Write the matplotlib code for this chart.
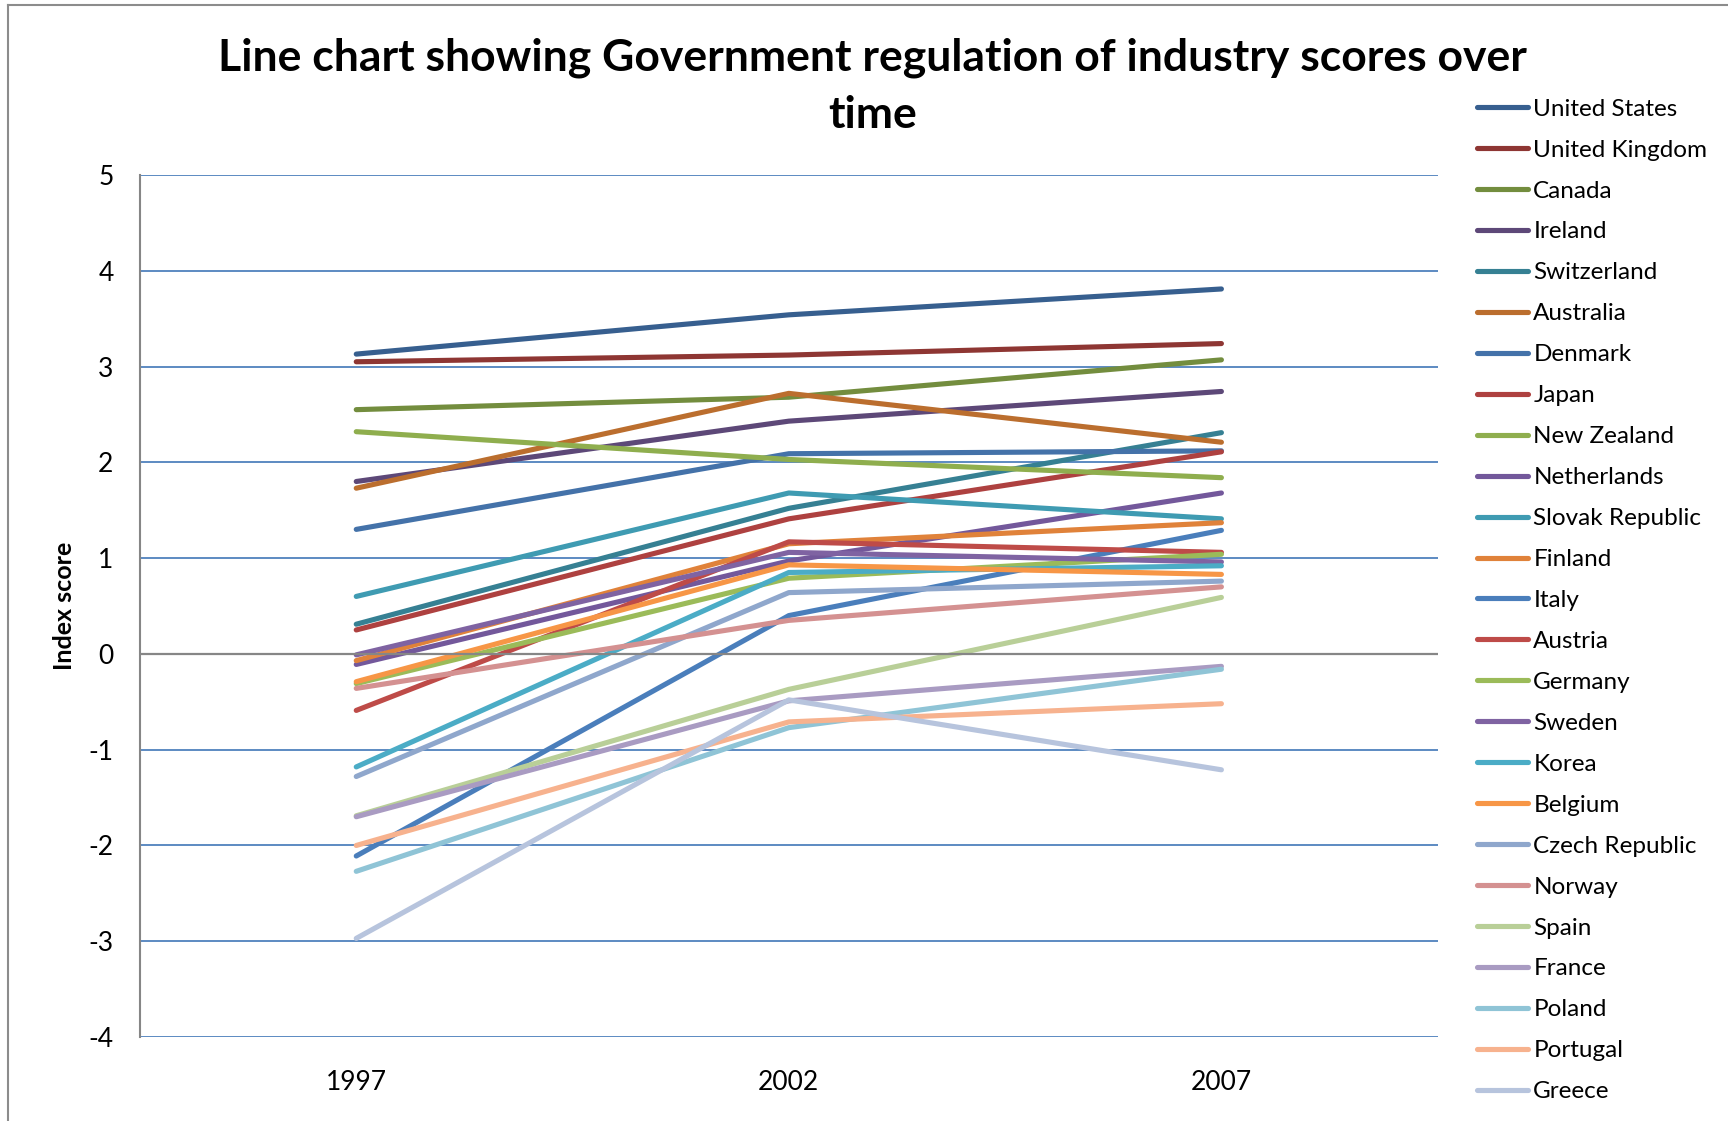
import matplotlib
matplotlib.use("Agg")
import matplotlib.pyplot as plt
from matplotlib.lines import Line2D

plt.rcParams['font.family'] = ['Lato', 'DejaVu Sans']
plt.rcParams['axes.unicode_minus'] = False

years = ['1997', '2002', '2007']
countries = ['United States', 'United Kingdom', 'Canada', 'Ireland', 'Switzerland',
             'Australia', 'Denmark', 'Japan', 'New Zealand', 'Netherlands',
             'Slovak Republic', 'Finland', 'Italy', 'Austria', 'Germany', 'Sweden',
             'Korea', 'Belgium', 'Czech Republic', 'Norway', 'Spain', 'France',
             'Poland', 'Portugal', 'Greece']
scores = [
    [3.13, 3.54, 3.81],    # United States
    [3.05, 3.12, 3.24],    # United Kingdom
    [2.55, 2.68, 3.07],    # Canada
    [1.80, 2.43, 2.74],    # Ireland
    [0.31, 1.52, 2.31],    # Switzerland
    [1.73, 2.72, 2.21],    # Australia
    [1.30, 2.09, 2.12],    # Denmark
    [0.25, 1.41, 2.11],    # Japan
    [2.32, 2.03, 1.84],    # New Zealand
    [-0.11, 0.97, 1.68],   # Netherlands
    [0.60, 1.68, 1.41],    # Slovak Republic
    [-0.07, 1.15, 1.37],   # Finland
    [-2.11, 0.40, 1.29],   # Italy
    [-0.59, 1.17, 1.06],   # Austria
    [-0.31, 0.79, 1.04],   # Germany
    [-0.01, 1.06, 0.96],   # Sweden
    [-1.18, 0.85, 0.92],   # Korea
    [-0.29, 0.93, 0.83],   # Belgium
    [-1.28, 0.64, 0.76],   # Czech Republic
    [-0.36, 0.35, 0.70],   # Norway
    [-1.69, -0.37, 0.59],  # Spain
    [-1.70, -0.49, -0.13], # France
    [-2.27, -0.77, -0.16], # Poland
    [-2.00, -0.71, -0.52], # Portugal
    [-2.97, -0.48, -1.21], # Greece
]
colors = ['#375f8f', '#8e3633', '#738d3e', '#5d4878', '#368093', '#bb6e2e',
          '#4472a9', '#ae4140', '#8fae4e', '#73589b', '#3f9bb2', '#e0823a',
          '#4a7ebb', '#be4b48', '#9bbb59', '#7f63a2', '#4bacc6', '#f79646',
          '#8fa7cc', '#d49191', '#b9cf98', '#a99bc2', '#8fc4d6', '#f7b28e', '#b7c4dd']

fig = plt.figure(figsize=(17.28, 11.21), dpi=100)
ax = fig.add_axes([0.081, 0.0749, 0.751, 0.769])

x = range(len(years))
for name, vals, c in zip(countries, scores, colors):
    ax.plot(x, vals, color=c, lw=3.7, label=name, solid_capstyle='round',
            solid_joinstyle='round')

ax.set_xlim(-0.5, 2.5)
ax.set_ylim(-4, 5)
ax.set_yticks(range(-4, 6))
ax.set_xticks(list(x))
ax.set_xticklabels(years)
ax.grid(axis='y', color='#4f81bd', lw=1.3)
ax.axhline(0, color='#868686', lw=1.6)
ax.set_axisbelow(True)
for s in ['top', 'right', 'bottom']:
    ax.spines[s].set_visible(False)
ax.spines['left'].set_color('#868686')
ax.spines['left'].set_linewidth(1.5)
ax.tick_params(axis='both', length=0, labelsize=19)
ax.tick_params(axis='y', pad=19)
ax.tick_params(axis='x', pad=24)
ax.set_ylabel('Index score', fontsize=18, fontweight='bold', labelpad=9)

fig.text(0.505, 0.923, 'Line chart showing Government regulation of industry scores over\ntime',
         ha='center', va='center', fontsize=32, fontweight='bold', linespacing=1.52)

fig.legend(loc='upper left', bbox_to_anchor=(0.855, 0.912), frameon=False,
           fontsize=17.5, handlelength=2.1, handletextpad=0.2, labelspacing=0.82,
           borderaxespad=0, borderpad=0)

# chart border
fig.add_artist(Line2D([0.0048, 0.0048], [0, 0.9955], color='#8c8c8c', lw=1.5))
fig.add_artist(Line2D([0.0048, 1], [0.9955, 0.9955], color='#8c8c8c', lw=1.5))

fig.savefig('out.png', dpi=100)
